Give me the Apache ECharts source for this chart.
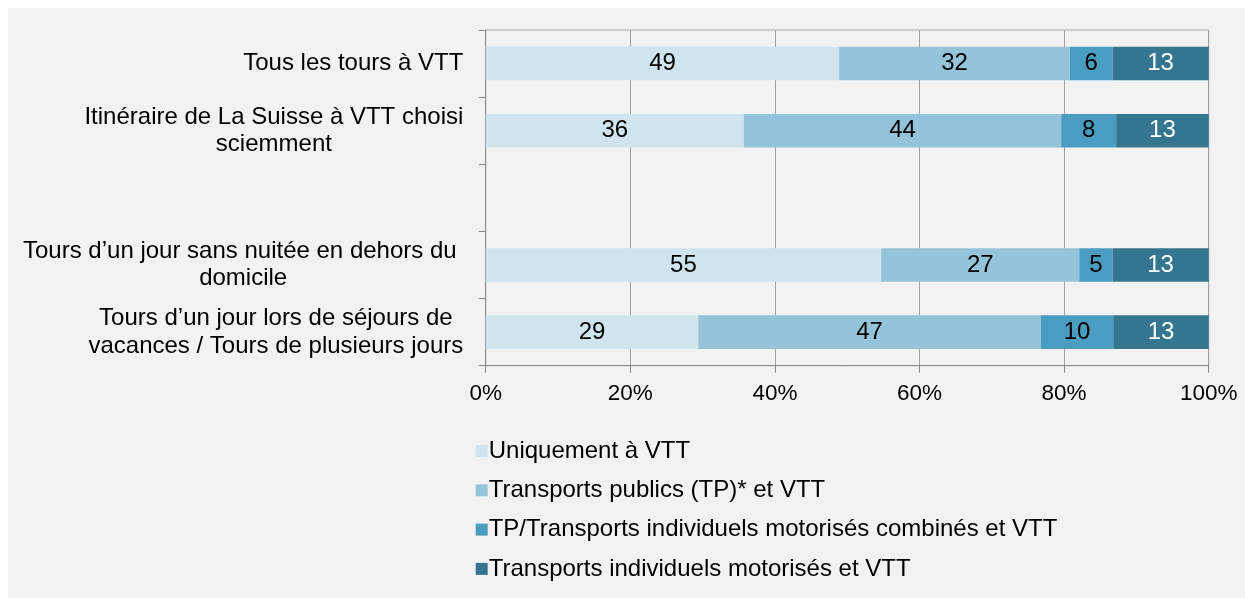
<!DOCTYPE html>
<html>
<head>
<meta charset="utf-8">
<script src="https://cdn.jsdelivr.net/npm/echarts@6/dist/echarts.min.js"></script>
<style>
  html, body { margin: 0; padding: 0; background: #ffffff; }
  #chart { position: absolute; left: 8px; top: 8px; width: 1237px; height: 590px; background: #f2f2f2; }
</style>
</head>
<body>
<div id="chart"></div>
<script>
// catégories (de haut en bas), la ligne vide sépare les deux groupes
const categories = [
  "Tous les tours à VTT",
  "Itinéraire de La Suisse à VTT choisi\nsciemment",
  "",
  "Tours d’un jour sans nuitée en dehors du \ndomicile",
  "Tours d’un jour lors de séjours de\nvacances / Tours de plusieurs jours"
]

const seriesNames = [
  "Uniquement à VTT",
  "Transports publics (TP)* et VTT",
  "TP/Transports individuels motorisés combinés et VTT",
  "Transports individuels motorisés et VTT"
]

const uniquementVTT = [48.9, 35.7, null, 54.7, 29.4]
const tpEtVTT = [31.9, 43.9, null, 27.4, 47.4]
const tpTimCombines = [5.9, 7.6, null, 4.6, 10.0]
const timEtVTT = [13.3, 12.8, null, 13.3, 13.2]

const xTicks = [0, 20, 40, 60, 80, 100]

const colors = ["#cfe4ed", "#95c4da", "#4b9cc1", "#347690"]
const labelColors = ["#000000", "#000000", "#000000", "#ffffff"]

const font = "Liberation Sans, Arial, sans-serif"

const makeSeries = (name, values, idx) => ({
  name: name,
  type: "bar",
  stack: "total",
  barWidth: "50%",
  data: values,
  itemStyle: { color: colors[idx] },
  emphasis: { disabled: true },
  label: {
    show: true,
    position: "inside",
    color: labelColors[idx],
    fontFamily: font,
    fontSize: 24,
    formatter: (p) => p.value == null ? "" : Math.round(p.value)
  }
})

const allValues = [uniquementVTT, tpEtVTT, tpTimCombines, timEtVTT]

let dom = document.getElementById("chart")
let myChart = echarts.init(dom, null, { renderer: "canvas" })

let option = {
  backgroundColor: "#f2f2f2",
  animation: false,
  grid: {
    left: 477.7,
    right: 36.3,
    top: 22,
    bottom: 232.3,
    show: true,
    borderColor: "#a6a6a6",
    borderWidth: 1
  },
  legend: {
    orient: "vertical",
    left: 462.7,
    top: 426,
    icon: "rect",
    itemWidth: 12,
    itemHeight: 12,
    itemGap: 15.3,
    data: seriesNames,
    textStyle: { fontFamily: font, fontSize: 24, color: "#000", lineHeight: 24, padding: [0, 0, 0, -4] }
  },
  xAxis: {
    type: "value",
    min: xTicks[0],
    max: xTicks[xTicks.length - 1],
    interval: 20,
    axisLine: { show: true, lineStyle: { color: "#868686" } },
    axisTick: { show: true, length: 7, lineStyle: { color: "#868686" } },
    splitLine: { show: true, lineStyle: { color: "#a0a0a0" } },
    axisLabel: {
      margin: 17,
      color: "#000",
      fontFamily: font,
      fontSize: 22.5,
      formatter: (v) => v + "%"
    }
  },
  yAxis: {
    type: "category",
    inverse: true,
    data: categories,
    axisLine: { show: true, lineStyle: { color: "#868686" } },
    axisTick: { show: true, length: 7, lineStyle: { color: "#868686" } },
    axisLabel: {
      margin: 22.4,
      color: "#000",
      fontFamily: font,
      fontSize: 24,
      formatter: (v) => v.split("\n").map(line => `{c|${line}}`).join("\n"),
      rich: {
        c: { align: "center", fontFamily: font, fontSize: 24, lineHeight: 27.5, color: "#000" }
      }
    }
  },
  series: seriesNames.map((name, i) => makeSeries(name, allValues[i], i))
}

myChart.setOption(option)
</script>
</body>
</html>
